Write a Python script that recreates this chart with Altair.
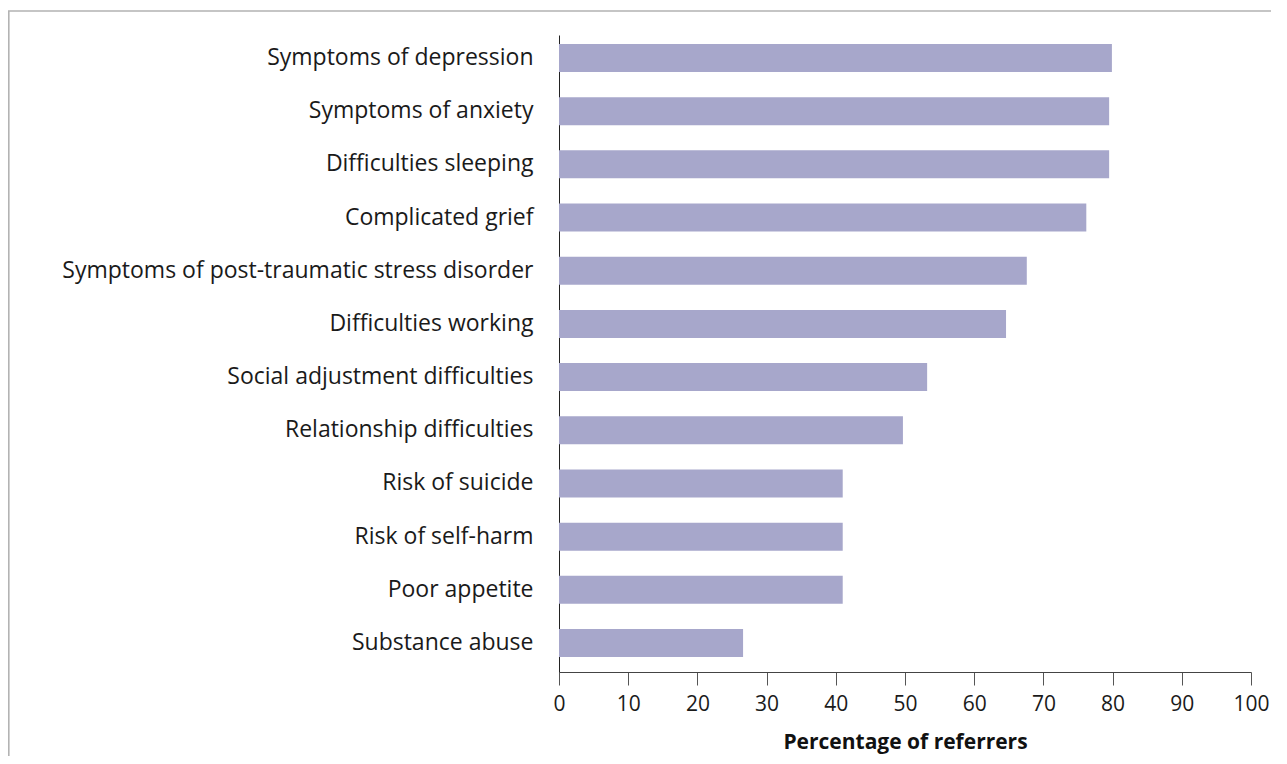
import altair as alt
import pandas as pd

categories = [
    "Symptoms of depression",
    "Symptoms of anxiety",
    "Difficulties sleeping",
    "Complicated grief",
    "Symptoms of post-traumatic stress disorder",
    "Difficulties working",
    "Social adjustment difficulties",
    "Relationship difficulties",
    "Risk of suicide",
    "Risk of self-harm",
    "Poor appetite",
    "Substance abuse",
]
values = [79.9, 79.5, 79.5, 76.2, 67.6, 64.6, 53.2, 49.7, 41.0, 41.0, 41.0, 26.6]
x_ticks = [0, 10, 20, 30, 40, 50, 60, 70, 80, 90, 100]

df = pd.DataFrame({"category": categories, "value": values})

FONT = "Open Sans"

bars = alt.Chart(df).mark_bar(color="#a7a7cb").encode(
    x=alt.X(
        "value:Q",
        scale=alt.Scale(domain=[0, 100], nice=False),
        axis=alt.Axis(
            values=x_ticks,
            title="Percentage of referrers",
            titleFont=FONT,
            titleFontSize=21,
            titleFontWeight="bold",
            titleColor="#111111",
            titleBaseline="alphabetic",
            titleY=76,
            labelFont=FONT,
            labelFontSize=21,
            labelColor="#1a1a1a",
            labelPadding=8,
            labelFlush=False,
            tickSize=13,
            tickColor="#555555",
            domainColor="#444444",
            grid=False,
        ),
    ),
    y=alt.Y(
        "category:N",
        sort=None,
        scale=alt.Scale(paddingInner=0.4735, paddingOuter=0.2256, align=0.375),
        axis=alt.Axis(
            title=None,
            labelFont=FONT,
            labelFontSize=23,
            labelColor="#1a1a1a",
            labelPadding=26,
            labelLimit=600,
            ticks=False,
            domainColor="#222222",
        ),
    ),
)

frame = alt.Chart(alt.Data(values=[{"f": 1}])).mark_rect(
    fill=None, stroke="#b3b3b3", strokeWidth=1.6
).encode(
    x=alt.value(-550.2),
    x2=alt.value(900),
    y=alt.value(-24),
    y2=alt.value(900),
)

chart = alt.layer(frame, bars).properties(
    width=692,
    height=637,
    padding={"left": 551, "top": 27, "right": 20, "bottom": 84},
    autosize=alt.AutoSizeParams(type="none"),
    background="white",
).configure_view(stroke=None, strokeWidth=0)

chart.save("out.html", embed_options={"renderer": "svg", "actions": False})
